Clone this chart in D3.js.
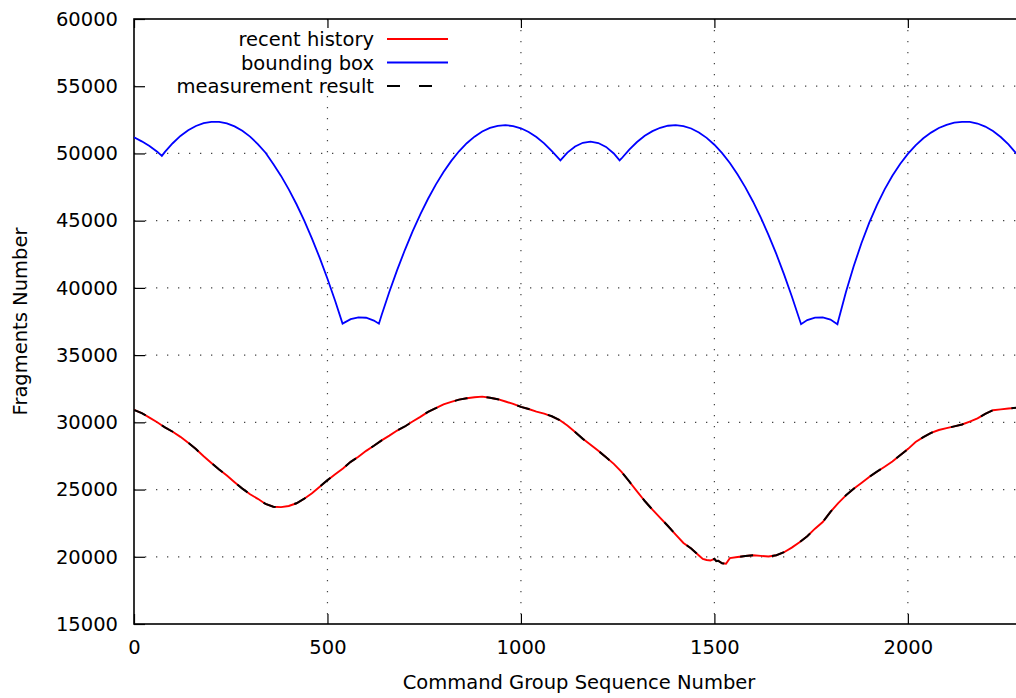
<!DOCTYPE html>
<html>
<head>
<meta charset="utf-8">
<script src="https://cdn.jsdelivr.net/npm/d3@7"></script>
<style>
  body { margin: 0; background: #fff; }
  text { font-family: "DejaVu Sans", sans-serif; font-size: 19.5px; fill: #000; }
</style>
</head>
<body>
<script>

// tick labels
var seqTicks = [0, 500, 1000, 1500, 2000];
var fragTicks = [15000, 20000, 25000, 30000, 35000, 40000, 45000, 50000, 55000, 60000];

// bounding box (blue)
var bboxSeq = [0, 20, 40, 60, 72, 80, 100, 120, 140, 160, 180, 200, 220, 240, 260, 280, 300, 320, 340, 360,
  380, 400, 420, 440, 460, 480, 500, 520, 539, 560, 580, 600, 620, 633, 640, 660, 680, 700, 720, 740,
  760, 780, 800, 820, 840, 860, 880, 900, 920, 940, 960, 980, 1000, 1020, 1040, 1060, 1080, 1102, 1120, 1140,
  1160, 1180, 1200, 1220, 1240, 1255, 1260, 1280, 1300, 1320, 1340, 1360, 1380, 1400, 1420, 1440, 1460, 1480, 1500, 1520,
  1540, 1560, 1580, 1600, 1620, 1640, 1660, 1680, 1700, 1724, 1740, 1760, 1780, 1800, 1818, 1820, 1840, 1860, 1880, 1900,
  1920, 1940, 1960, 1980, 2000, 2020, 2040, 2060, 2080, 2100, 2120, 2140, 2160, 2180, 2200, 2220, 2240, 2260, 2280, 2290];
var bboxFragments = [51200, 50900, 50560, 50130, 49820, 50120, 50760, 51300, 51720, 52040, 52250, 52355, 52350, 52235, 52015, 51685, 51250, 50700, 50050, 49220,
  48330, 47330, 46220, 45000, 43670, 42230, 40680, 39020, 37340, 37670, 37810, 37780, 37570, 37340, 37990, 39710, 41320, 42815, 44200, 45470,
  46630, 47680, 48620, 49445, 50160, 50760, 51250, 51630, 51900, 52055, 52100, 52040, 51870, 51600, 51225, 50750, 50165, 49480, 50060, 50520,
  50795, 50880, 50775, 50485, 50000, 49480, 49625, 50290, 50850, 51310, 51660, 51910, 52060, 52100, 52030, 51855, 51565, 51160, 50650, 50025,
  49290, 48440, 47480, 46410, 45225, 43930, 42525, 41005, 39375, 37300, 37610, 37795, 37800, 37640, 37300, 37540, 39690, 41610, 43320, 44830,
  46160, 47330, 48340, 49220, 49970, 50600, 51130, 51550, 51890, 52130, 52285, 52355, 52345, 52225, 52000, 51665, 51220, 50670, 50010, 49640];

// recent history (red) / measurement result (black dashes) - they coincide at this scale
var historySeq = [0, 20, 40, 60, 80, 100, 120, 140, 160, 180, 200, 220, 240, 260, 280, 300, 320, 340, 360, 380,
  400, 420, 440, 460, 480, 500, 520, 540, 560, 580, 600, 620, 640, 660, 680, 700, 720, 740, 760, 780,
  800, 820, 840, 860, 880, 900, 920, 940, 960, 980, 1000, 1020, 1040, 1060, 1080, 1100, 1120, 1140, 1160, 1180,
  1200, 1220, 1240, 1260, 1280, 1300, 1320, 1340, 1360, 1380, 1400, 1420, 1440, 1460, 1470, 1480, 1490, 1500, 1505, 1510,
  1520, 1530, 1540, 1560, 1580, 1600, 1620, 1640, 1660, 1680, 1700, 1720, 1740, 1760, 1780, 1800, 1820, 1840, 1860, 1880,
  1900, 1920, 1940, 1960, 1980, 2000, 2020, 2040, 2060, 2080, 2100, 2120, 2140, 2160, 2180, 2200, 2220, 2240, 2260, 2280, 2290];
var historyFragments = [30930, 30690, 30350, 30010, 29620, 29300, 28920, 28490, 28010, 27480, 26980, 26490, 26050, 25550, 25070, 24650, 24310, 23930, 23720, 23690,
  23780, 23980, 24320, 24720, 25210, 25700, 26140, 26570, 27060, 27440, 27880, 28260, 28660, 29010, 29390, 29690, 30060, 30410, 30780, 31050,
  31340, 31520, 31690, 31790, 31870, 31910, 31830, 31720, 31550, 31370, 31150, 30990, 30800, 30650, 30450, 30170, 29760, 29280, 28770, 28340,
  27880, 27400, 26910, 26320, 25600, 24870, 24150, 23500, 22890, 22290, 21650, 21030, 20620, 20100, 19840, 19760, 19720, 19850, 19680, 19700,
  19520, 19480, 19900, 19980, 20060, 20110, 20070, 20020, 20110, 20340, 20680, 21080, 21530, 22090, 22580, 23340, 23990, 24570, 25060, 25490,
  25940, 26330, 26700, 27090, 27550, 28010, 28540, 28900, 29220, 29430, 29570, 29700, 29840, 30060, 30290, 30630, 30900, 30960, 31030, 31080, 31090];

// plot area (right border falls just outside the picture)
var margin = {top: 19, left: 134},
    width = 888,
    height = 605;

var x = d3.scaleLinear().domain([0, 2295]).range([0, width]);
var y = d3.scaleLinear().domain([15000, 60000]).range([height, 0]);

var svg = d3.select("body").append("svg")
    .attr("width", 1016)
    .attr("height", 698);

var g = svg.append("g")
    .attr("transform", "translate(" + margin.left + "," + margin.top + ")");

g.append("clipPath").attr("id", "clip")
  .append("rect").attr("width", width).attr("height", height);

// dotted grid
g.selectAll(".vgrid")
    .data(seqTicks.filter(function(d) { return d > 0; }))
  .enter().append("line")
    .attr("x1", function(d) { return x(d); })
    .attr("x2", function(d) { return x(d); })
    .attr("y1", 0).attr("y2", height)
    .attr("stroke", "#444").attr("stroke-width", 1.2)
    .attr("stroke-dasharray", "1.3,9.7");

g.selectAll(".hgrid")
    .data(fragTicks.slice(1, -1))
  .enter().append("line")
    .attr("x1", 0).attr("x2", width)
    .attr("y1", function(d) { return y(d); })
    .attr("y2", function(d) { return y(d); })
    .attr("stroke", "#444").attr("stroke-width", 1.2)
    .attr("stroke-dasharray", "1.3,9.7");

// opaque key box
g.append("rect")
    .attr("x", 8).attr("y", 8)
    .attr("width", 318).attr("height", 68)
    .attr("fill", "#fff");

// axes
var fmt = d3.format("d");

var xAxis = g.append("g")
    .attr("transform", "translate(0," + height + ")")
    .call(d3.axisBottom(x).tickValues(seqTicks).tickFormat(fmt)
      .tickSizeInner(-10).tickSizeOuter(0).tickPadding(16));

var xTop = g.append("g")
    .call(d3.axisTop(x).tickValues(seqTicks).tickSizeInner(-9).tickSizeOuter(0).tickFormat(""));

var yAxis = g.append("g")
    .call(d3.axisLeft(y).tickValues(fragTicks).tickFormat(fmt)
      .tickSizeInner(-11).tickSizeOuter(0).tickPadding(16));

[xAxis, xTop, yAxis].forEach(function(a) {
  a.select(".domain").remove();
  a.selectAll("line").attr("stroke", "#000").attr("stroke-width", 1.2);
  a.selectAll("text")
    .attr("fill", "#000")
    .style("font-family", "DejaVu Sans")
    .style("font-size", "19.5px");
});

// border
g.append("rect")
    .attr("width", width).attr("height", height)
    .attr("fill", "none").attr("stroke", "#000").attr("stroke-width", 1.6);

// lines
var lineFn = function(xs, ys) {
  return d3.line()
      .x(function(d, i) { return x(xs[i]); })
      .y(function(d, i) { return y(ys[i]); })(ys);
};

var plot = g.append("g").attr("clip-path", "url(#clip)");

plot.append("path")
    .attr("d", lineFn(historySeq, historyFragments))
    .attr("fill", "none").attr("stroke", "#ff0000").attr("stroke-width", 1.9);

plot.append("path")
    .attr("d", lineFn(bboxSeq, bboxFragments))
    .attr("fill", "none").attr("stroke", "#0000ff").attr("stroke-width", 1.8);

plot.append("path")
    .attr("d", lineFn(historySeq, historyFragments))
    .attr("fill", "none").attr("stroke", "#000").attr("stroke-width", 2)
    .attr("stroke-dasharray", "13,19");

// key
var keys = [
  {label: "recent history", color: "#ff0000", dash: null},
  {label: "bounding box", color: "#0000ff", dash: null},
  {label: "measurement result", color: "#000", dash: "13,19"}
];

keys.forEach(function(k, i) {
  var ky = 20 + i * 23.5;
  g.append("text")
      .attr("x", 240).attr("y", ky + 7)
      .attr("text-anchor", "end")
      .text(k.label);
  g.append("line")
      .attr("x1", 253).attr("x2", 314)
      .attr("y1", ky).attr("y2", ky)
      .attr("stroke", k.color).attr("stroke-width", 1.8)
      .attr("stroke-dasharray", k.dash);
});

// axis titles
svg.append("text")
    .attr("x", margin.left + width / 2 + 1)
    .attr("y", 689)
    .attr("text-anchor", "middle")
    .text("Command Group Sequence Number");

svg.append("text")
    .attr("transform", "translate(27," + (margin.top + height / 2) + ") rotate(-90)")
    .attr("text-anchor", "middle")
    .text("Fragments Number");

</script>
</body>
</html>
